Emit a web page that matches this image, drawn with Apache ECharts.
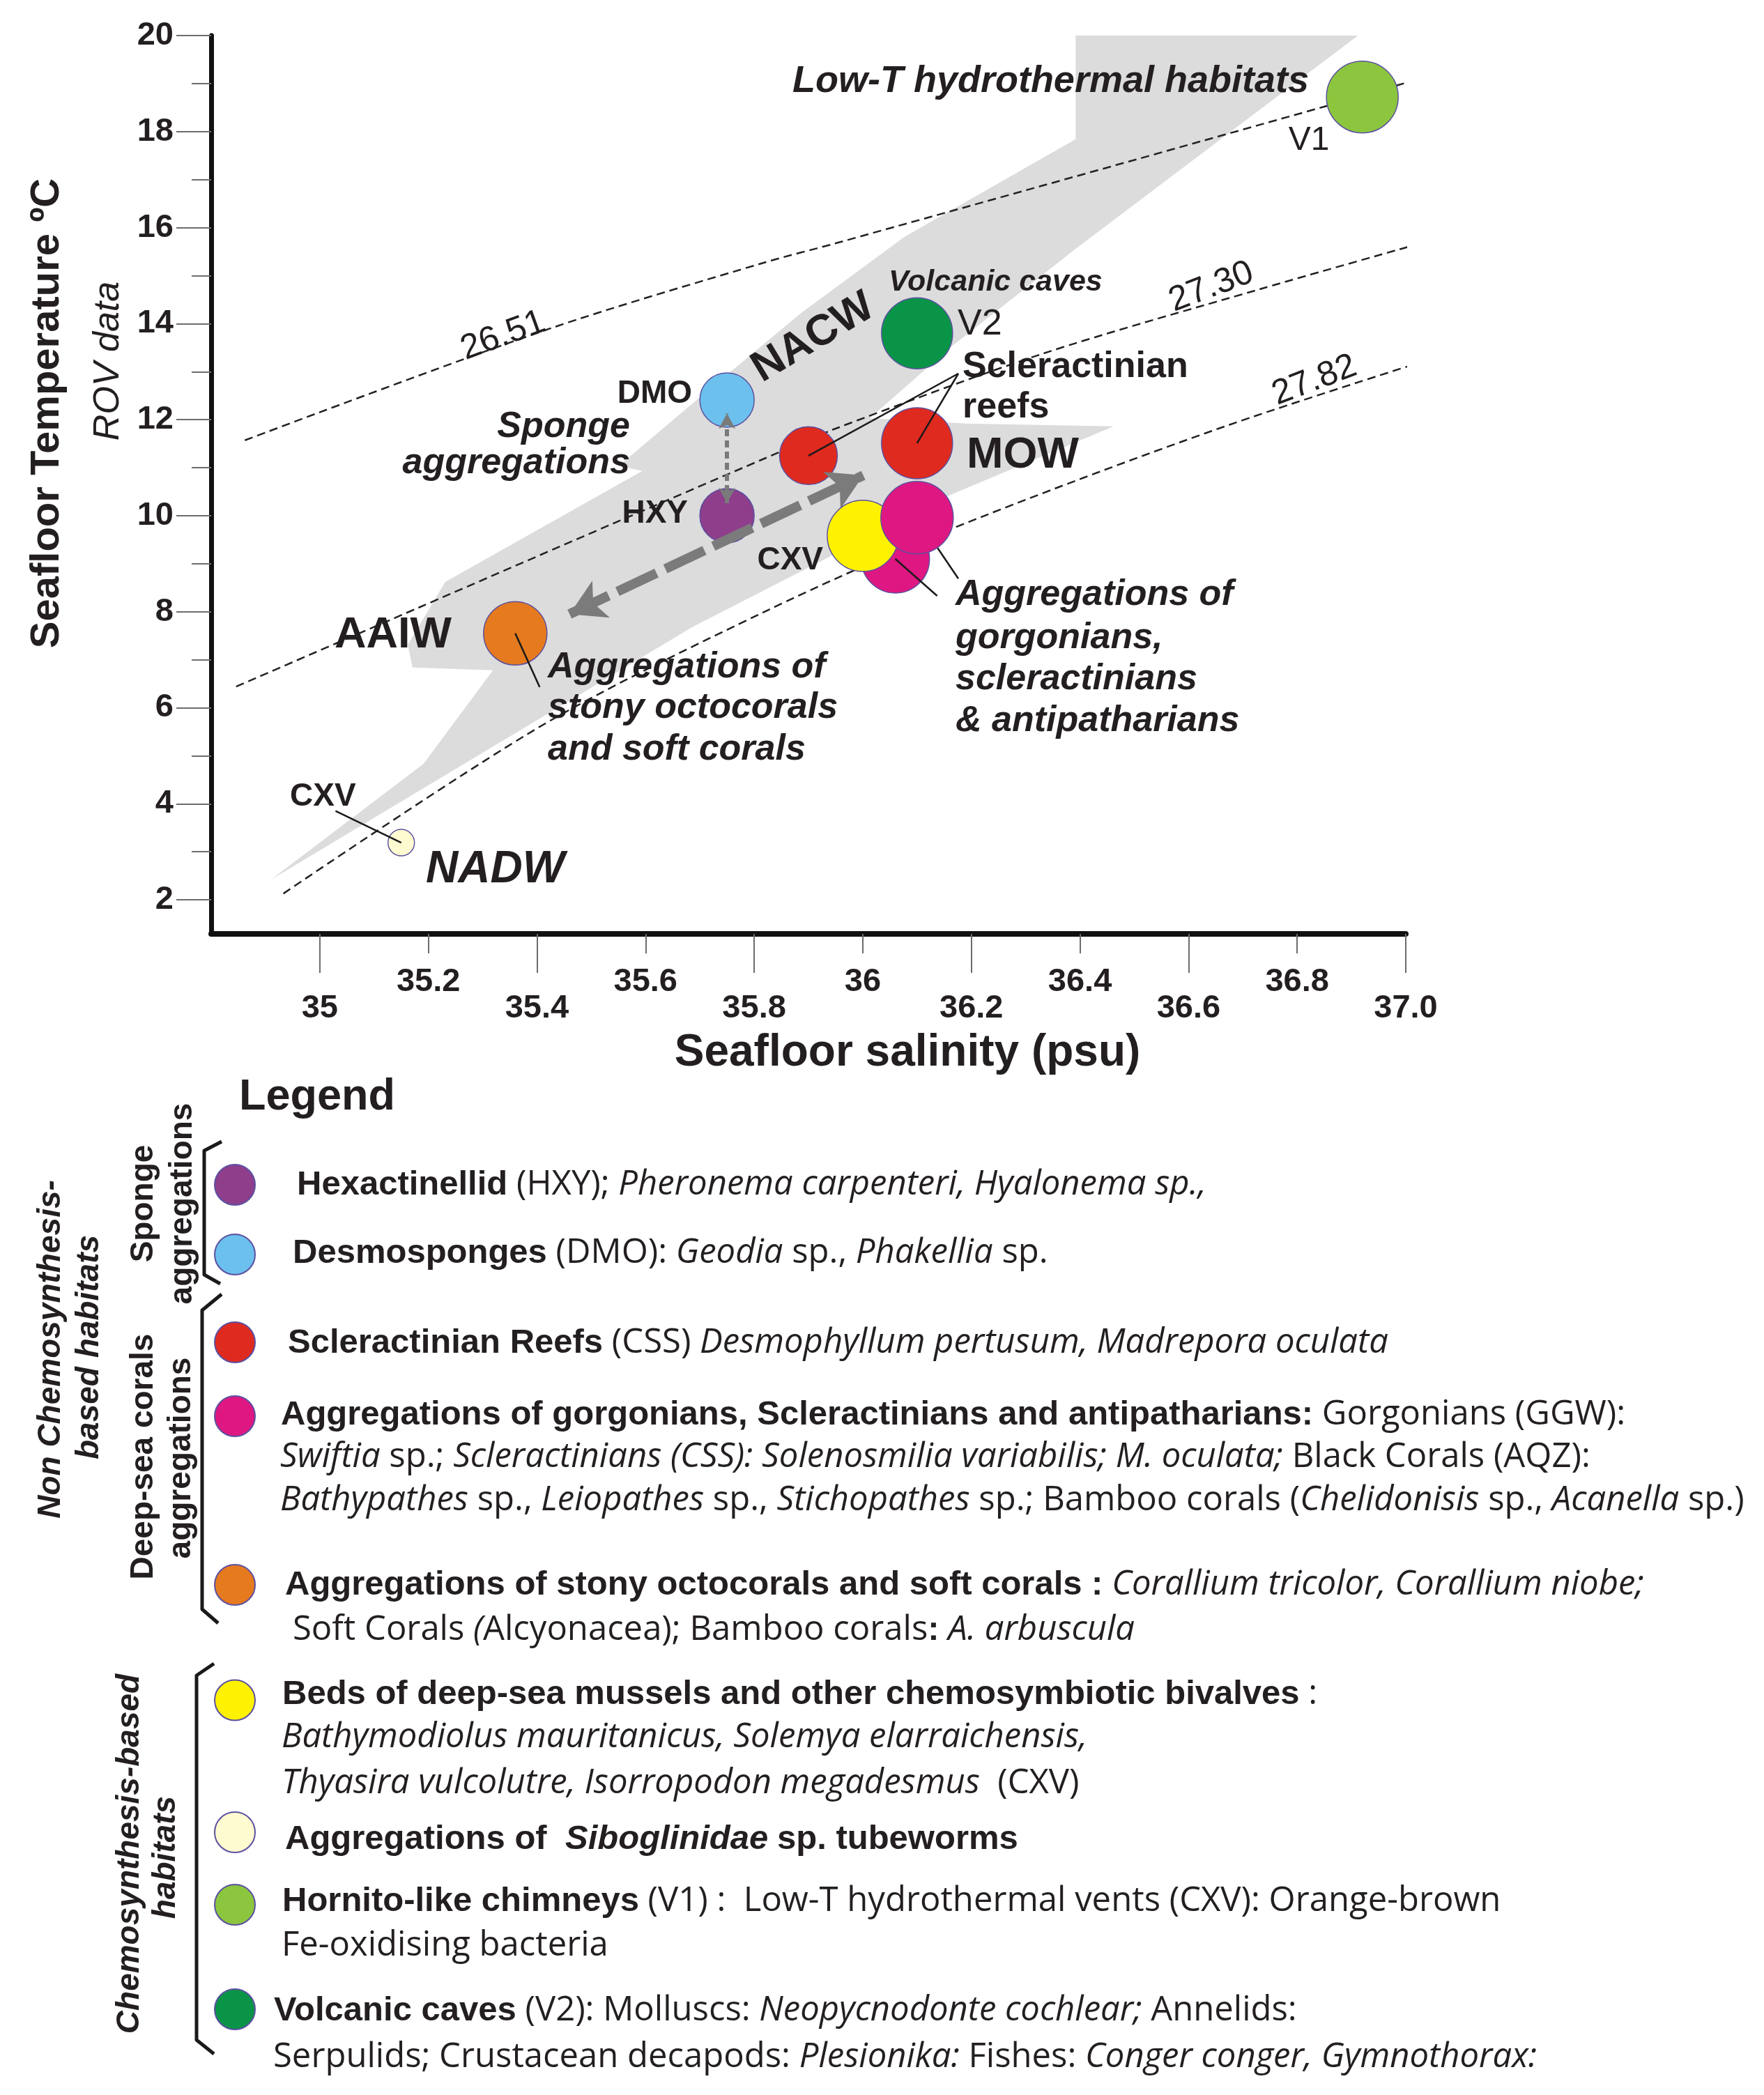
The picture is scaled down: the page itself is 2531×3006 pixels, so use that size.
<!DOCTYPE html>
<html><head><meta charset="utf-8">
<script src="https://cdn.jsdelivr.net/npm/echarts@6/dist/echarts.min.js"></script>
<style>html,body{margin:0;padding:0;background:#fff}#chart{width:2531px;height:3006px}</style>
</head><body><div id="chart"></div>
<script>
// ================= DATA (salinity psu, temperature °C) =================
const habitatCodes = ['HXY','DMO','CSS','GGW','OCTO','CXV','SIBO','V1','V2'];
const ptsHXY  = [[35.75, 10.00]];
const ptsDMO  = [[35.75, 12.41]];
const ptsCSS  = [[35.90, 11.25], [36.10, 11.51]];
const ptsGGWlow  = [[36.06, 9.10]];
const ptsGGWhigh = [[36.10, 9.96]];
const ptsOCTO = [[35.36, 7.55]];
const ptsCXV  = [[36.00, 9.58]];
const ptsSIBO = [[35.15, 3.19]];
const ptsV1   = [[36.92, 18.72]];
const ptsV2   = [[36.10, 13.80]];

// isopycnals (sigma-t)
const iso2651 = [[34.862,11.57],[35.422,13.89],[35.821,15.28],[35.949,15.67],[36.850,18.52],[37.076,19.27]];
const iso2730 = [[34.846,6.44],[35.179,8.07],[35.545,9.86],[35.821,11.20],[35.949,11.81],[36.333,13.38],[36.732,14.72],[37.105,15.92]];
const iso2782 = [[34.933,2.13],[35.409,5.63],[35.821,8.01],[36.160,9.71],[36.654,11.81],[37.090,13.42]];

// water-mass envelope (grey band)
const waterMassEnvelope = [
  [34.910,2.42],[35.191,4.83],[35.319,6.78],[35.171,6.84],[35.162,7.31],[35.231,8.62],
  [35.594,10.93],[35.551,11.04],[35.692,12.39],[35.885,14.21],[36.077,15.81],[36.392,17.84],
  [36.392,20.0],[36.912,20.0],[36.392,15.56],[36.164,13.53],[36.013,12.03],[36.192,11.92],
  [36.462,11.86],[36.163,10.44],[35.686,7.68]
];

// arrows and leader lines
const arrowAAIWtoMOW = [[35.460,7.95],[36.001,10.84]];
const arrowHXYtoDMO  = [[35.75,10.26],[35.75,12.13]];
const leaderOCTO  = [[35.36,7.55],[35.405,6.43]];
const leaderCSS1  = [[35.90,11.25],[36.176,12.96]];
const leaderCSS2  = [[36.10,11.51],[36.176,12.96]];
const leaderGGW1  = [[36.10,9.96],[36.176,8.69]];
const leaderGGW2  = [[36.06,9.10],[36.137,8.33]];
const leaderSIBO  = [[35.029,3.85],[35.15,3.19]];

// ticks
const xTickMajor = [35, 35.4, 35.8, 36.2, 36.6, 37.0];
const xTickMajorLabels = ['35','35.4','35.8','36.2','36.6','37.0'];
const xTickMinor = [35.2, 35.6, 36, 36.4, 36.8];
const xTickMinorLabels = ['35.2','35.6','36','36.4','36.8'];
const yTickMajor = [2,4,6,8,10,12,14,16,18,20];
const yTickMinor = [3,5,7,9,11,13,15,17,19];

// ================= STYLE / LAYOUT =================
const SANS = '"Liberation Sans", Arial, sans-serif';
const OPEN = '"Open Sans", sans-serif';
const INK = '#231f20';
const bubbleStyle = {
  HXY:  {color:'#8e3e8b', sizes:[78]},
  DMO:  {color:'#6cc0ee', sizes:[78]},
  CSS:  {color:'#df2a1f', sizes:[83,102]},
  GGWlow:{color:'#df1782', sizes:[98]},
  GGWhigh:{color:'#df1782', sizes:[104]},
  OCTO: {color:'#e57a1f', sizes:[91]},
  CXV:  {color:'#fff200', sizes:[102]},
  SIBO: {color:'#fffbd0', sizes:[38]},
  V1:   {color:'#8cc63f', sizes:[103]},
  V2:   {color:'#0a9447', sizes:[102]}
};
function bubble(name, key, pts, z){
  const st = bubbleStyle[key];
  return {type:'scatter', name, data:pts, z,
    symbol:'circle', symbolSize:(v,p)=>st.sizes[p.dataIndex] || st.sizes[0],
    itemStyle:{color:st.color, borderColor:'#5b50a0', borderWidth:1.5, opacity:1},
    emphasis:{disabled:true}};
}
function seg(a){ return [{coord:a[0]},{coord:a[1]}]; }

const FS = 49;
const RICH = {
  b:{fontFamily:SANS, fontWeight:'bold', fontSize:FS, color:INK, fill:INK},
  bi:{fontFamily:SANS, fontWeight:'bold', fontStyle:'italic', fontSize:FS, color:INK, fill:INK},
  r:{fontFamily:OPEN, fontSize:FS, color:INK, fill:INK},
  i:{fontFamily:OPEN, fontStyle:'italic', fontSize:FS, color:INK, fill:INK}
};

const legendLayout = [
  {name:'HXY', icon:[336,1699], text:[425,1699],
   lines:['{b|Hexactinellid} {r|(HXY);} {i|Pheronema carpenteri, Hyalonema} {i|sp.,}']},
  {name:'DMO', icon:[336,1799], text:[419,1797],
   lines:['{b|Desmosponges} {r|(DMO):} {i|Geodia} {r|sp.,} {i|Phakellia} {r|sp.}']},
  {name:'CSS', icon:[336,1925], text:[412,1926],
   lines:['{b|Scleractinian Reefs} {r|(CSS)} {i|Desmophyllum pertusum, Madrepora oculata}']},
  {name:'GGW', icon:[336,2031], text:[402,2029], dy:62,
   lines:['{b|Aggregations of gorgonians, Scleractinians and antipatharians:} {r|Gorgonians (GGW):}',
          '{i|Swiftia} {r|sp.;} {i|Scleractinians (CSS): Solenosmilia variabilis; M. oculata;} {r|Black Corals (AQZ):}',
          '{i|Bathypathes} {r|sp.,} {i|Leiopathes} {r|sp.,} {i|Stichopathes} {r|sp.; Bamboo corals (}{i|Chelidonisis} {r|sp.,} {i|Acanella} {r|sp.)}']},
  {name:'OCTO', icon:[336,2273], text:[408,2273], dy:66, x2:420,
   lines:['{b|Aggregations of stony octocorals and soft corals :} {i|Corallium tricolor, Corallium niobe;}',
          '{r|Soft Corals }{i|(}{r|Alcyonacea); Bamboo corals}{b|:} {i|A. arbuscula}']},
  {name:'CXV', icon:[336,2436], text:[404,2428], dy:65.5,
   lines:['{b|Beds of deep-sea mussels and other chemosymbiotic bivalves} {r|:}',
          '{i|Bathymodiolus mauritanicus, Solemya elarraichensis,}',
          '{i|Thyasira vulcolutre, Isorropodon megadesmus}  {r|(CXV)}']},
  {name:'SIBO', icon:[336,2628], text:[408,2638],
   lines:['{b|Aggregations of } {bi|Siboglinidae} {b|sp. tubeworms}']},
  {name:'V1', icon:[336,2732], text:[404,2727], dy:65,
   lines:['{b|Hornito-like chimneys} {r|(V1) :  Low-T hydrothermal vents (CXV): Orange-brown}',
          '{r|Fe-oxidising bacteria}']},
  {name:'V2', icon:[336,2882], text:[392,2884], dy:68,
   lines:['{b|Volcanic caves} {r|(V2): Molluscs:} {i|Neopycnodonte cochlear;} {r|Annelids:}',
          '{r|Serpulids; Crustacean decapods:} {i|Plesionika:} {r|Fishes:} {i|Conger conger, Gymnothorax:}']}
];

const ICON = 58;
const legends = legendLayout.map(L => {
  const left = L.icon[0] - ICON/2, top = L.icon[1] - ICON/2;
  const padL = L.text[0] - (left + ICON + 5);
  const d = L.text[1] - L.icon[1];
  return {
    data:[L.name], left, top, padding:0, orient:'vertical',
    icon:'circle', itemWidth:ICON, itemHeight:ICON, selectedMode:true,
    formatter: () => L.lines[0],
    textStyle:{color:INK, fontFamily:OPEN, fontSize:FS, rich:RICH,
      padding:[d>0?2*d:0, 0, d<0?-2*d:0, padL]}
  };
});

// ---- graphic helpers ----
function T(x, y, text, size, o){
  o = o || {};
  return {type:'text', x, y, rotation:(o.rot||0)*Math.PI/180, z:100, silent:true,
    style:{text, fill:INK, fontFamily:o.family||SANS, fontSize:size,
      fontWeight:o.bold?'bold':'normal', fontStyle:o.italic?'italic':'normal',
      align:o.align||'left', verticalAlign:'middle'}};
}
function R(x, y, text){
  return {type:'text', x, y, z:100, silent:true,
    style:{text, rich:RICH, fill:INK, fontFamily:OPEN, fontSize:FS, align:'left', verticalAlign:'middle'}};
}
function bracket(pts){
  return {type:'polyline', z:100, silent:true, shape:{points:pts},
    style:{stroke:'#1a1a1a', lineWidth:5, fill:null, lineJoin:'round'}};
}

const graphics = [
  // axis titles
  T(68, 593, 'Seafloor Temperature ºC', 58, {bold:true, align:'center', rot:90}),
  T(156, 518, 'ROV data', 52, {italic:true, align:'center', rot:90}),
  T(1302, 1511, 'Seafloor salinity (psu)', 64, {bold:true, align:'center'}),
  // plot annotations
  T(1878, 117, 'Low-T hydrothermal habitats', 54, {bold:true, italic:true, align:'right'}),
  T(1878, 202, 'V1', 48, {align:'center'}),
  T(1275, 405, 'Volcanic caves', 43, {bold:true, italic:true}),
  T(1374, 466, 'V2', 52),
  T(1381, 527, 'Scleractinian', 52, {bold:true}),
  T(1381, 585, 'reefs', 52, {bold:true}),
  T(1387, 654, 'MOW', 63, {bold:true}),
  T(1371, 854, 'Aggregations of', 52, {bold:true, italic:true}),
  T(1371, 916, 'gorgonians,', 52, {bold:true, italic:true}),
  T(1371, 975, 'scleractinians', 52, {bold:true, italic:true}),
  T(1371, 1035, '& antipatharians', 52, {bold:true, italic:true}),
  T(904, 613, 'Sponge', 52, {bold:true, italic:true, align:'right'}),
  T(904, 665, 'aggregations', 52, {bold:true, italic:true, align:'right'}),
  T(993, 565, 'DMO', 46, {bold:true, align:'right'}),
  T(987, 737, 'HXY', 46, {bold:true, align:'right'}),
  T(1181, 804, 'CXV', 46, {bold:true, align:'right'}),
  T(480, 912, 'AAIW', 63, {bold:true}),
  T(786, 958, 'Aggregations of', 52, {bold:true, italic:true}),
  T(786, 1016, 'stony octocorals', 52, {bold:true, italic:true}),
  T(786, 1076, 'and soft corals', 52, {bold:true, italic:true}),
  T(416, 1143, 'CXV', 46, {bold:true}),
  T(611, 1248, 'NADW', 64, {bold:true, italic:true}),
  T(1167, 485, 'NACW', 62, {bold:true, align:'center', rot:31}),
  T(722, 482, '26.51', 50, {align:'center', rot:20}),
  T(1738, 412, '27.30', 50, {align:'center', rot:21}),
  T(1886, 546, '27.82', 50, {align:'center', rot:21}),
  // legend heading and group labels
  T(343, 1575, 'Legend', 63, {bold:true}),
  T(206, 1727, 'Sponge', 46, {bold:true, align:'center', rot:90}),
  T(262, 1727, 'aggregations', 46, {bold:true, align:'center', rot:90}),
  T(206, 2090, 'Deep-sea corals', 46, {bold:true, align:'center', rot:90}),
  T(260, 2092, 'aggregations', 46, {bold:true, align:'center', rot:90}),
  T(73, 1936, 'Non Chemosynthesis-', 46, {bold:true, italic:true, align:'center', rot:90}),
  T(128, 1933, 'based habitats', 46, {bold:true, italic:true, align:'center', rot:90}),
  T(186, 2660, 'Chemosynthesis-based', 46, {bold:true, italic:true, align:'center', rot:90}),
  T(238, 2665, 'habitats', 46, {bold:true, italic:true, align:'center', rot:90}),
  bracket([[318,1638],[293,1651],[293,1829],[316,1842]]),
  bracket([[318,1857],[290,1880],[290,2309],[313,2329]]),
  bracket([[307,2387],[282,2404],[282,2927],[307,2947]])
];
legendLayout.forEach(L => {
  for (let k = 1; k < L.lines.length; k++) {
    const x = (k === 1 && L.x2) ? L.x2 : L.text[0];
    graphics.push(R(x, L.text[1] + k * L.dy, L.lines[k]));
  }
});

// ================= CHART =================
const chart = echarts.init(document.getElementById('chart'), null, {renderer:'canvas'});
const axisLabelBase = {color:INK, fontFamily:SANS, fontWeight:'bold', fontSize:47};
const tickStyle = {color:'#6d6d6d', width:2};
const dashed = {color:'#222', width:2.5, type:[12,7]};

chart.setOption({
  backgroundColor:'#fff',
  animation:false,
  grid:{left:303, top:51, width:1714, height:1289, outerBoundsMode:'none', containLabel:false},
  xAxis:[
    {type:'value', min:34.8, max:37.0, position:'bottom',
     axisLine:{show:true, onZero:false, lineStyle:{color:'#111', width:8}},
     axisTick:{show:true, length:56, customValues:xTickMajor, lineStyle:tickStyle},
     axisLabel:Object.assign({customValues:xTickMajor, margin:84,
       formatter:v => xTickMajorLabels[xTickMajor.findIndex(t => Math.abs(t - v) < 1e-6)] || ''}, axisLabelBase),
     splitLine:{show:false}},
    {type:'value', min:34.8, max:37.0, position:'bottom',
     axisLine:{show:false, onZero:false},
     axisTick:{show:true, length:28, customValues:xTickMinor, lineStyle:tickStyle},
     axisLabel:Object.assign({customValues:xTickMinor, margin:46,
       formatter:v => xTickMinorLabels[xTickMinor.findIndex(t => Math.abs(t - v) < 1e-6)] || ''}, axisLabelBase),
     splitLine:{show:false}}
  ],
  yAxis:[
    {type:'value', min:1.29, max:20, position:'left',
     axisLine:{show:true, onZero:false, lineStyle:{color:'#111', width:7}},
     axisTick:{show:true, length:50, customValues:yTickMajor, lineStyle:tickStyle},
     axisLabel:Object.assign({customValues:yTickMajor, margin:54}, axisLabelBase),
     splitLine:{show:false}},
    {type:'value', min:1.29, max:20, position:'left',
     axisLine:{show:false, onZero:false},
     axisTick:{show:true, length:28, customValues:yTickMinor, lineStyle:tickStyle},
     axisLabel:{show:false}, splitLine:{show:false}}
  ],
  legend: legends,
  graphic: graphics,
  series:[
    {type:'custom', name:'Water masses', z:1, silent:true, data:waterMassEnvelope,
     renderItem:(params, api) => {
       if (params.dataIndex !== 0) return null;
       return {type:'polygon', shape:{points:waterMassEnvelope.map(p => api.coord(p))},
               style:{fill:'#dcdcdc', stroke:null}};
     }},
    {type:'line', name:'26.51', data:iso2651, smooth:0.3, symbol:'none', lineStyle:dashed, z:2, clip:false, silent:true},
    {type:'line', name:'27.30', data:iso2730, smooth:0.3, symbol:'none', lineStyle:dashed, z:2, clip:false, silent:true},
    {type:'line', name:'27.82', data:iso2782, smooth:0.3, symbol:'none', lineStyle:dashed, z:2, clip:false, silent:true},
    {type:'line', name:'AAIW-MOW', data:[], z:3, silent:true,
     markLine:{silent:true, symbol:['arrow','arrow'], symbolSize:[44,50], label:{show:false},
       lineStyle:{color:'#7b7b7b', width:14, type:[62,14]}, emphasis:{disabled:true},
       data:[seg(arrowAAIWtoMOW)]}},
    {type:'line', name:'HXY-DMO', data:[], z:3, silent:true,
     markLine:{silent:true, symbol:['arrow','arrow'], symbolSize:[18,22], label:{show:false},
       lineStyle:{color:'#7a7a7a', width:6, type:[10,6]}, emphasis:{disabled:true},
       data:[seg(arrowHXYtoDMO)]}},
    bubble('HXY','HXY',ptsHXY,4),
    bubble('DMO','DMO',ptsDMO,4),
    bubble('CSS','CSS',ptsCSS,4),
    bubble('GGW','GGWlow',ptsGGWlow,4),
    bubble('CXV','CXV',ptsCXV,5),
    bubble('GGW','GGWhigh',ptsGGWhigh,6),
    bubble('OCTO','OCTO',ptsOCTO,4),
    bubble('SIBO','SIBO',ptsSIBO,4),
    bubble('V1','V1',ptsV1,4),
    bubble('V2','V2',ptsV2,4),
    {type:'line', name:'leaders', data:[], z:10, silent:true,
     markLine:{silent:true, symbol:'none', label:{show:false}, emphasis:{disabled:true},
       lineStyle:{color:'#1a1a1a', width:2.5, type:'solid'},
       data:[seg(leaderOCTO), seg(leaderCSS1), seg(leaderCSS2), seg(leaderGGW1), seg(leaderGGW2), seg(leaderSIBO)]}}
  ]
});
</script></body></html>
